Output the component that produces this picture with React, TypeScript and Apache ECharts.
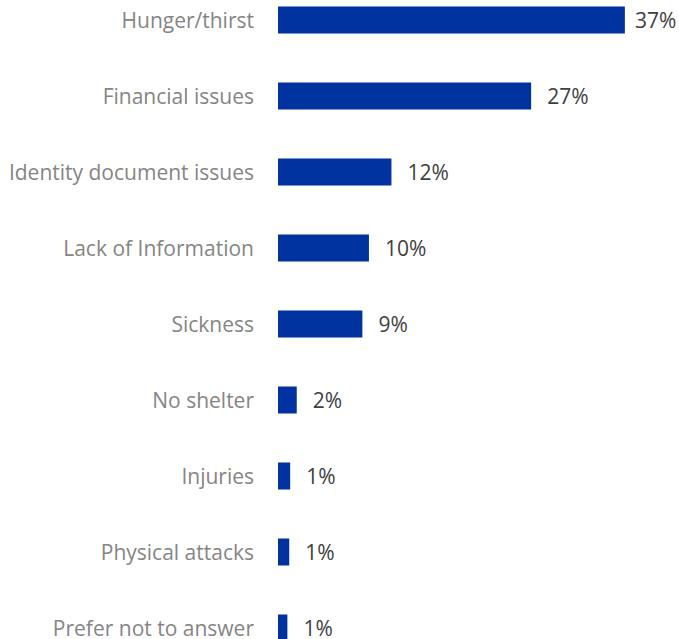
import React, { useEffect, useRef } from "react";
import * as echarts from "echarts";

const categories = [
  "Hunger/thirst",
  "Financial issues",
  "Identity document issues",
  "Lack of Information",
  "Sickness",
  "No shelter",
  "Injuries",
  "Physical attacks",
  "Prefer not to answer",
];
const values = [37, 27, 12.1, 9.7, 9.0, 2.0, 1.3, 1.2, 1.0];
const valueLabels = ["37%", "27%", "12%", "10%", "9%", "2%", "1%", "1%", "1%"];

export default function App() {
  const ref = useRef<HTMLDivElement>(null);
  useEffect(() => {
    const chart = echarts.init(ref.current!, null, { renderer: "svg" });
    const font = "'Open Sans', sans-serif";
    chart.setOption({
      animation: false,
      grid: { left: 278, top: 0, width: 375, height: 684, containLabel: false },
      xAxis: {
        type: "value",
        min: 0,
        max: 40,
        show: false,
      },
      yAxis: {
        type: "category",
        data: categories,
        inverse: true,
        axisLine: { show: false },
        axisTick: { show: false },
        axisLabel: {
          margin: 24,
          color: "#858585",
          fontSize: 21,
          lineHeight: 20,
          fontFamily: font,
        },
      },
      series: [
        {
          type: "bar",
          barWidth: 27,
          itemStyle: { color: "#0033a0" },
          data: values.map((v, i) => ({
            value: v,
            label: { formatter: valueLabels[i], distance: i === 0 ? 10 : 16 },
          })),
          label: {
            show: true,
            position: "right",
            color: "#404040",
            fontSize: 21,
            lineHeight: 20,
            fontFamily: font,
          },
        },
      ],
    });
    return () => chart.dispose();
  }, []);
  return (
    <div
      ref={ref}
      style={{ position: "fixed", left: 0, top: -18, width: 679, height: 684, background: "#fff" }}
    />
  );
}
